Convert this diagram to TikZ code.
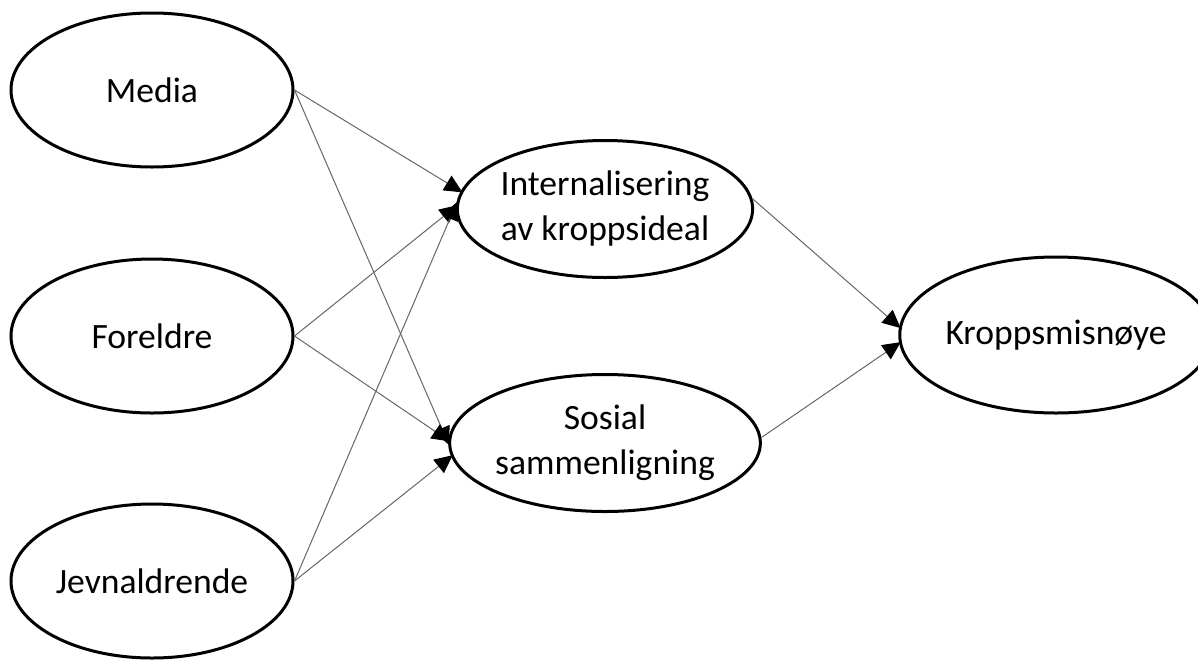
\documentclass[tikz,border=0pt]{standalone}
\usepackage{fontspec}
\setmainfont{Carlito}
\usetikzlibrary{arrows.meta, shapes.geometric, positioning}

\begin{document}
\begin{tikzpicture}[x=0.5pt, y=-0.5pt,
    factor/.style={ellipse, draw, line width=1.5pt, inner sep=0pt, minimum width=141pt, align=center, font=\fontsize{17.8}{22.5}\selectfont},
    link/.style={draw=black!60, line width=0.5pt, shorten >=-1pt, -{Triangle[length=9pt, width=8.5pt, color=black]}}]
    \useasboundingbox (0, 0) rectangle (1198, 659);

    \node[factor, minimum height=77pt] (media) at (152, 90) {Media};
    \node[factor, minimum height=77pt] (foreldre) at (152, 336) {Foreldre};
    \node[factor, minimum height=77pt] (jevnaldrende) at (152, 581) {Jevnaldrende};
    \node[factor, minimum height=68.5pt] (intern) at (605, 209) {Internalisering\\av kroppsideal};
    \node[factor, minimum height=68.5pt] (sosial) at (605, 443) {Sosial\\sammenligning};
    \node[factor, minimum height=78pt] (kropp) at (1056, 335) {Kroppsmisnøye};

    \draw
    (media.east) edge[link] (intern.173)
    (media.east) edge[link] (sosial.180)
    (foreldre.east) edge[link] (intern.179)
    (foreldre.east) edge[link] (sosial.179)
    (jevnaldrende.east) edge[link] (intern.178)
    (jevnaldrende.east) edge[link] (sosial.185)
    (intern.4) edge[link] (kropp.177)
    (sosial.2) edge[link] (kropp.183);
\end{tikzpicture}
\end{document}
